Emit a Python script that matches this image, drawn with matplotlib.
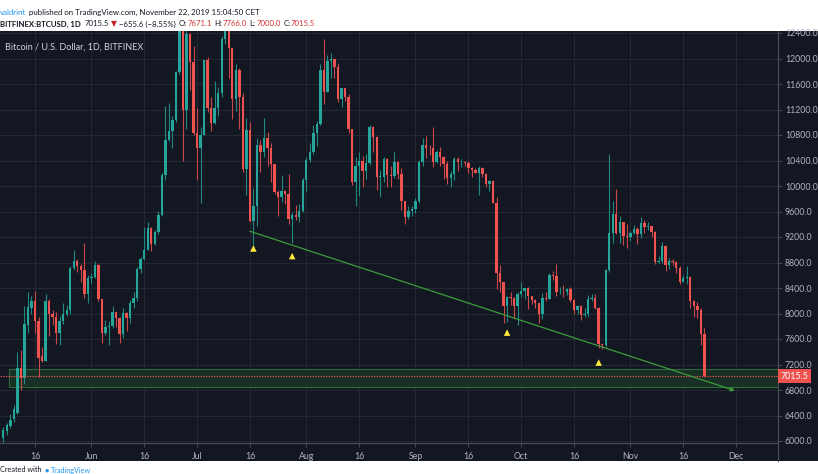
import matplotlib
matplotlib.use("Agg")
import matplotlib.pyplot as plt
import matplotlib.dates as mdates
from matplotlib.patches import Rectangle
from matplotlib.lines import Line2D
import numpy as np
import pandas as pd

# ---------------- data ----------------
start_date = "2019-05-07"
opens = [6040, 6150, 6230, 6350, 6440, 7150, 6990, 7820, 8080, 8190, 7880, 7330, 7260, 8200, 7990, 7950, 7690, 7890, 8000, 8060, 8720, 8830, 8740, 8680, 8300,
         8560, 8580, 8760, 8220, 7700, 7790, 7810, 8020, 7930, 7680, 8010, 7930, 8160, 8240, 8700, 8850, 9000, 9340, 9090, 9280, 9540, 10180, 10720, 10870, 11030, 11790, 13050, 11190, 12380, 11950,
         10830, 10600, 10800, 11970, 11220, 10990, 11220, 11460, 12300, 12580, 12160, 11360, 11820, 11390, 10260, 10880, 9450, 9690, 10650, 10530, 10760, 10600, 10340, 9900, 9820, 9920, 9870, 9480, 9550, 9520, 9610,
         10090, 10410, 10530, 10830, 10980, 11820, 11480, 11960, 11990, 11870, 11360, 11530, 11390, 10900, 10060, 10320, 10390, 10240, 10360, 10930, 10770, 10140, 10140, 10420, 10170, 10150, 10380, 10190, 9760, 9520, 9610,
         9640, 9770, 10370, 10640, 10600, 10590, 10370, 10530, 10450, 10340, 10120, 10190, 10420, 10370, 10370, 10360, 10290, 10250, 10210, 10280, 10190, 10030, 10080, 9740, 8640, 8500, 8120, 8260, 8250, 8110,
         8310, 8350, 8400, 8270, 8210, 8160, 7990, 8250, 8230, 8600, 8590, 8330, 8340, 8330, 8380, 8210, 8050, 8110, 7980, 7990, 8230, 8250, 8080, 7520, 7500, 8680, 9260, 9560, 9260, 9440, 9210,
         9200, 9270, 9330, 9240, 9420, 9350, 9370, 9280, 8810, 8820, 9060, 8760, 8820, 8810, 8710, 8500, 8560, 8580, 8200, 8110, 8060, 7671.1]
highs = [6220, 6290, 6420, 6560, 7400, 7430, 8120, 8330, 8280, 8350, 7950, 7480, 8300, 8220, 8060, 8030, 7960, 8160, 8140, 8750, 9000, 8850, 8780, 9100, 8600,
         8640, 8820, 8780, 8230, 7900, 7880, 8120, 8030, 7940, 8080, 8020, 8210, 8330, 8730, 8880, 9360, 9440, 9360, 9310, 9610, 10200, 11250, 11300, 11100, 11800, 13900, 13350, 12450, 12400, 12200,
         11230, 10920, 11980, 12020, 11400, 11640, 11550, 12360, 12800, 13170, 12170, 11920, 11850, 11460, 11070, 11000, 9970, 10750, 10720, 11060, 10850, 10670, 10350, 9930, 10170, 9930, 10190, 9590, 9700, 9720, 10120,
         10460, 10670, 10960, 11020, 11920, 12300, 12060, 12080, 12000, 11930, 11540, 11540, 11440, 10900, 10460, 10540, 10470, 10500, 10960, 10940, 10780, 10250, 10460, 10440, 10320, 10530, 10400, 10290, 9770, 9690, 9690,
         9810, 10410, 10760, 10780, 10640, 10920, 10560, 10610, 10470, 10400, 10230, 10460, 10450, 10430, 10400, 10400, 10300, 10290, 10320, 10300, 10200, 10090, 10090, 9820, 8760, 8500, 8280, 8330, 8260, 8330,
         8500, 8400, 8420, 8270, 8220, 8170, 8320, 8340, 8640, 8670, 8780, 8420, 8440, 8400, 8420, 8220, 8140, 8140, 8090, 8290, 8310, 8310, 8100, 7540, 8700, 10500, 9770, 9950, 9530, 9440, 9400,
         9290, 9390, 9360, 9520, 9470, 9440, 9380, 9290, 8900, 9120, 9080, 8870, 8850, 8820, 8740, 8600, 8740, 8590, 8210, 8180, 8080, 7766.0]
lows = [5990, 6090, 6200, 6300, 6430, 6800, 6900, 7700, 8000, 7700, 7010, 7240, 7250, 7650, 7820, 7520, 7500, 7830, 7960, 8000, 8680, 8650, 8500, 8240, 8160,
        8480, 8560, 8200, 7540, 7660, 7500, 7780, 7790, 7540, 7620, 7730, 7850, 8090, 8200, 8630, 8840, 8990, 8980, 9070, 9250, 9530, 10100, 10700, 10600, 11000, 11750, 10400, 10900, 11500, 10800,
        10100, 9730, 10800, 11160, 10870, 10980, 11100, 11390, 12230, 11700, 11050, 11180, 10900, 10220, 9860, 9430, 9080, 9370, 10220, 10450, 10320, 10070, 9880, 9530, 9750, 9710, 9400, 9110, 9470, 9430, 9600,
        9920, 10370, 10500, 10620, 10960, 11280, 11470, 11700, 11700, 11310, 11240, 11330, 10830, 10020, 9680, 9850, 9990, 10110, 10330, 10540, 9930, 9820, 10070, 9980, 9990, 10130, 10110, 9620, 9410, 9490, 9530,
        9580, 9740, 10320, 10440, 10490, 10300, 10360, 10320, 10110, 10030, 9990, 10100, 10230, 10300, 10320, 10200, 10140, 10200, 9860, 10140, 9980, 9920, 9730, 8380, 8330, 7850, 7870, 8140, 7930, 7820,
        8260, 8230, 8070, 8150, 8080, 7850, 7910, 8190, 8230, 8520, 8270, 8300, 8260, 8290, 8180, 7990, 8000, 7900, 7940, 7950, 8190, 8070, 7460, 7440, 7480, 8650, 9110, 9250, 9110, 9080, 9030,
        9130, 9250, 9090, 9190, 9260, 9310, 9200, 8770, 8790, 8800, 8660, 8700, 8760, 8640, 8470, 8490, 8460, 8090, 7940, 7930, 7500, 7000.0]
closes = [6170, 6250, 6330, 6500, 7150, 6990, 7830, 8100, 8200, 7880, 7300, 7260, 8200, 7990, 7950, 7690, 7890, 8000, 8060, 8720, 8830, 8740, 8680, 8300, 8560,
          8580, 8760, 8220, 7700, 7790, 7810, 8020, 7930, 7680, 8010, 7930, 8160, 8240, 8700, 8850, 9000, 9340, 9090, 9280, 9540, 10180, 10720, 10870, 11030, 11790, 13050, 11190, 12380, 11950, 10830,
          10600, 10800, 11970, 11220, 10990, 11220, 11460, 12300, 12580, 12160, 11360, 11820, 11390, 10260, 10880, 9450, 9690, 10650, 10530, 10760, 10600, 10340, 9900, 9820, 9920, 9870, 9480, 9550, 9520, 9610, 10090,
          10410, 10530, 10830, 10980, 11820, 11480, 11960, 11990, 11870, 11360, 11530, 11390, 10900, 10060, 10320, 10390, 10240, 10360, 10930, 10770, 10140, 10140, 10420, 10170, 10150, 10380, 10190, 9760, 9520, 9610, 9640,
          9770, 10370, 10640, 10600, 10590, 10370, 10530, 10450, 10340, 10120, 10190, 10420, 10370, 10370, 10360, 10290, 10250, 10210, 10280, 10190, 10030, 10080, 9740, 8640, 8500, 8120, 8260, 8250, 8110, 8310,
          8350, 8400, 8270, 8210, 8160, 7990, 8250, 8230, 8600, 8590, 8330, 8340, 8330, 8380, 8210, 8050, 8110, 7980, 7990, 8230, 8250, 8080, 7520, 7500, 8680, 9260, 9560, 9260, 9440, 9210, 9200,
          9270, 9330, 9240, 9420, 9350, 9370, 9280, 8810, 8820, 9060, 8760, 8820, 8810, 8710, 8500, 8560, 8580, 8200, 8110, 8060, 7671.1, 7015.5]

price_ticks = [6000, 6400, 6800, 7200, 7600, 8000, 8400, 8800, 9200, 9600, 10000, 10400, 10800, 11200, 11600, 12000, 12400]
date_ticks = ["2019-05-16", "2019-06-01", "2019-06-16", "2019-07-01", "2019-07-16", "2019-08-01", "2019-08-16",
              "2019-09-01", "2019-09-16", "2019-10-01", "2019-10-16", "2019-11-01", "2019-11-16", "2019-12-01"]
date_labels = ["16", "Jun", "16", "Jul", "16", "Aug", "16", "Sep", "16", "Oct", "16", "Nov", "16", "Dec"]

marker_dates = ["2019-07-17", "2019-07-28", "2019-09-27", "2019-10-23"]
marker_prices = [9020, 8900, 7700, 7230]
trend_dates = ["2019-07-16", "2019-11-30 16:00"]
trend_prices = [9290, 6790]
zone_left = "2019-05-08 14:00"
zone_low, zone_high = 6852, 7125
last_price = 7015.5

plt.rcParams["font.family"] = ["Lato", "DejaVu Sans"]

# ---------------- figure ----------------
W, H = 818, 474
fig = plt.figure(figsize=(W / 100, H / 100), dpi=100, facecolor="white")
BG = "#131722"
ax_right = 778
ax_top, ax_bot, strip_bot = 31, 443, 461
fig.patches.append(Rectangle((0, (H - strip_bot) / H), 1, (strip_bot - ax_top) / H, transform=fig.transFigure,
                             facecolor=BG, edgecolor="none", zorder=-10))

ax = fig.add_axes([0, (H - ax_bot) / H, ax_right / W, (ax_bot - ax_top) / H])
ax.set_zorder(1)
ax.set_facecolor(BG)

n = len(closes)
dates = pd.date_range(start_date, periods=n, freq="D")
xd = mdates.date2num(dates.to_pydatetime())
o = np.array(opens, float); h = np.array(highs, float); l = np.array(lows, float); c = np.array(closes, float)
up = c >= o
GREEN, RED = "#26a69a", "#ef5350"
cols = np.where(up, GREEN, RED)
wick_cols = np.where(up, "#1f8a80", "#c9484a")

ax.vlines(xd, l, h, colors=wick_cols, linewidth=0.8, zorder=3)
bottoms = np.minimum(o, c)
heights = np.maximum(np.abs(c - o), 12)
ax.bar(xd, heights, bottom=bottoms, width=0.68, color=cols, edgecolor="none", zorder=4)

# zone
zl = mdates.date2num(pd.Timestamp(zone_left).to_pydatetime())
zr = mdates.date2num(pd.Timestamp("2020-01-31").to_pydatetime())
ax.add_patch(Rectangle((zl, zone_low), zr - zl, zone_high - zone_low, facecolor="#182f25",
                       edgecolor="#2c6b3c", linewidth=0.8, zorder=2))

# last price dotted line
ax.axhline(last_price, color=RED, linestyle=(0, (1.2, 1.2)), linewidth=0.8, zorder=5)

# trend line with arrow
td = mdates.date2num([pd.Timestamp(t).to_pydatetime() for t in trend_dates])
ax.annotate("", xy=(td[1], trend_prices[1]), xytext=(td[0], trend_prices[0]),
            arrowprops=dict(arrowstyle="-|>", color="#3d9b3d", lw=0.9, mutation_scale=6,
                            shrinkA=0, shrinkB=0), zorder=6)

# yellow markers
md = mdates.date2num([pd.Timestamp(t).to_pydatetime() for t in marker_dates])
ax.scatter(md, marker_prices, marker="^", s=22, color="#ffeb3b", edgecolors="none", zorder=7)

# axes limits
x0 = mdates.date2num(pd.Timestamp("2019-05-16").to_pydatetime())
ppd = 3.523
ax.set_xlim(x0 - 35 / ppd, x0 + (ax_right - 35) / ppd)
ppp = 25.5 / 400.0
ax.set_ylim(12400 - (ax_bot - 33) / ppp, 12400 + (33 - ax_top) / ppp)

# grid / ticks
ax.set_yticks(price_ticks)
ax.set_yticklabels([f"{p:.1f}" for p in price_ticks])
tick_dates = mdates.date2num([pd.Timestamp(t).to_pydatetime() for t in date_ticks])
ax.set_xticks(tick_dates)
ax.set_xticklabels(date_labels)
ax.yaxis.tick_right()
ax.grid(True, color="#242833", linewidth=0.8, zorder=0)
ax.set_axisbelow(True)
ax.tick_params(axis="y", colors="#50535e", labelcolor="#b2b5be", labelsize=6.3, length=3, width=0.6, pad=2)
ax.tick_params(axis="x", colors="#50535e", labelcolor="#b2b5be", labelsize=6.3, length=3, width=0.6, pad=3.5)
for s in ["top", "left"]:
    ax.spines[s].set_visible(False)
for s in ["right", "bottom"]:
    ax.spines[s].set_color("#4a4e59")
    ax.spines[s].set_linewidth(0.8)

# separator extending into time-axis strip
fig.add_artist(Line2D([ax_right / W, ax_right / W], [(H - strip_bot) / H, (H - ax_bot) / H],
                      transform=fig.transFigure, color="#4a4e59", linewidth=0.8))

# last price tag
ax.text(1.003, last_price, f"{last_price:.1f}", transform=ax.get_yaxis_transform(), ha="left", va="center",
        fontsize=6.3, color="white", zorder=10, clip_on=False,
        bbox=dict(boxstyle="square,pad=0.3", facecolor=RED, edgecolor="none"))

# chart title
ax.text(0.006, 0.972, "Bitcoin / U.S. Dollar, 1D, BITFINEX", transform=ax.transAxes, ha="left", va="top",
        fontsize=6.5, color="#d1d4dc", zorder=10)

# header (sized so that each line spans the same width as in the picture)
renderer = fig.canvas.get_renderer()


def seq_text(xpix, ypix, parts, size, target=None):
    def draw(sz):
        x = xpix
        arts = []
        for s, color, weight, gap in parts:
            t = fig.text(x / W, 1 - ypix / H, s, color=color, fontsize=sz, fontweight=weight,
                         ha="left", va="center")
            arts.append(t)
            x += t.get_window_extent(renderer).width + gap
        return x, arts
    x_end, arts = draw(size)
    if target is not None:
        for a in arts:
            a.remove()
        gaps = sum(p[3] for p in parts)
        size = size * (target - xpix - gaps) / (x_end - xpix - gaps)
        x_end, arts = draw(size)
    return x_end


seq_text(0, 12.5, [("valdrint", "#2196f3", "normal", 2.5),
                   ("published on TradingView.com, November 22, 2019 15:04:50 CET", "#131722", "normal", 0)],
         5.7, target=259)
seq_text(0, 24, [("BITFINEX:BTCUSD, 1D", "#131722", "bold", 4),
                 ("7015.5", "#131722", "normal", 2),
                 ("\u25BC", "#c62828", "normal", 2),
                 ("\u2212655.6 (\u22128.55%)", "#131722", "normal", 3),
                 ("O:", "#131722", "normal", 0.5), ("7671.1", "#d32f2f", "normal", 2.5),
                 ("H:", "#131722", "normal", 0.5), ("7766.0", "#d32f2f", "normal", 2.5),
                 ("L:", "#131722", "normal", 0.5), ("7000.0", "#d32f2f", "normal", 2.5),
                 ("C:", "#131722", "normal", 0.5), ("7015.5", "#d32f2f", "normal", 0)],
         5.5, target=313)
seq_text(0, 470, [("Created with", "#131722", "normal", 3),
                  ("\u25CF", "#2196f3", "normal", 2),
                  ("TradingView", "#2196f3", "normal", 0)], 5.2)

fig.savefig("out.png", dpi=100, facecolor="white")
